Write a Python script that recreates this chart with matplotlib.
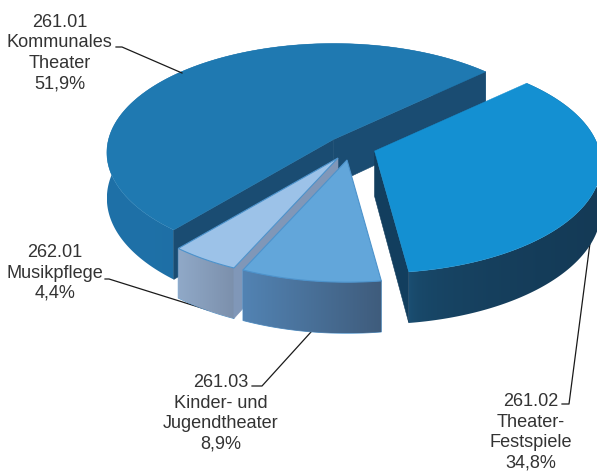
import numpy as np
import matplotlib
matplotlib.use('Agg')
import matplotlib.pyplot as plt
from matplotlib.colors import to_rgb
from matplotlib.patches import Polygon

plt.rcParams['font.family'] = ['Liberation Sans', 'DejaVu Sans']

# data, in clockwise order starting from the 261.02 slice
codes = ['261.02', '261.03', '262.01', '261.01']
names = ['Theater-\nFestspiele', 'Kinder- und\nJugendtheater', 'Musikpflege', 'Kommunales\nTheater']
shares = [34.8, 8.9, 4.4, 51.9]
share_labels = ['34,8%', '8,9%', '4,4%', '51,9%']

# layout of the fake 3d pie
start_angle = 43.0
rx, ry, persp = 225.0, 107.5, 0.12
depth = 45.0
tips = [(374.5, 151), (347, 160), (338, 158), (333.5, 139.5)]
draw_order = [3, 0, 2, 1]
# which radial faces can be seen: 0 is the clockwise start, -1 the end
faces = [[-1], [], [0], [0, -1]]

top_colors = ['#1490d2', '#62a6da', '#9cc2e8', '#1f79b1']
wall_colors = ['#123e5e', '#3f6c9a', '#8097b8', '#1a4c72']
side_left = ['#1c5378', '#5283b3', '#90a9c8', '#1f71a8']
side_right = ['#143a56', '#3f5c7c', '#7c90ac', '#1b6aa0']
side_gamma = [0.3, 1, 1, 1]
edge_colors = [None, '#4d93cc', '#4d93cc', None]

label_pos = [(531, 432.5), (221, 413.5), (55, 273), (59.5, 53)]
leaders = [[(562, 404), (569, 404), (590, 243)],
           [(252, 386), (262, 386), (311, 332)],
           [(105, 279), (109, 279), (208, 310)],
           [(116, 47), (122, 47), (182, 73)]]


def project(t, tip):
    # t in degrees on the disc, returns top rim and bottom rim points
    t = np.radians(t)
    w = 1 + persp*np.sin(t)
    x = tip[0] + rx*np.cos(t)/w
    y = tip[1] - ry*np.sin(t)/w
    return x, y, y + depth/w


def draw_slice(ax, i, t1, t2):
    tip = tips[i]
    z = 2 + draw_order.index(i)*3
    t = np.linspace(t1, t2, 240)
    x, y, yb = project(t, tip)

    # outer wall, gradient image clipped to the wall shape
    wall = np.r_[np.c_[x, y], np.c_[x, yb][::-1]]
    poly = Polygon(wall, fc='none', ec=edge_colors[i] or 'none', lw=0.6, zorder=z)
    ax.add_patch(poly)
    f = np.linspace(0, 1, 256)[None, :, None]**side_gamma[i]
    rgb = np.array(to_rgb(side_left[i]))[None, None, :]*(1-f) + np.array(to_rgb(side_right[i]))[None, None, :]*f
    im = ax.imshow(rgb, extent=(x.min(), x.max(), yb.max(), y.min()), aspect='auto', zorder=z,
                   interpolation='bilinear')
    im.set_clip_path(poly)

    # radial faces
    for k in faces[i]:
        ax.add_patch(Polygon([tip, (x[k], y[k]), (x[k], yb[k]), (tip[0], tip[1]+depth)],
                             fc=wall_colors[i], ec=wall_colors[i], lw=0.4, zorder=z+1))

    px = np.r_[tip[0], x]
    py = np.r_[tip[1], y]
    ec = edge_colors[i] or top_colors[i]
    ax.fill(px, py, fc=top_colors[i], ec=ec, lw=0.8 if edge_colors[i] else 0.3, zorder=z+2)


fig = plt.figure(figsize=(5.97, 4.73), dpi=100)
ax = fig.add_axes([0, 0, 1, 1])
ax.axis('off')

sweeps = np.array(shares)/sum(shares)*360
t_end = start_angle - np.cumsum(sweeps)
t_start = np.r_[start_angle, t_end[:-1]]

for i in draw_order:
    draw_slice(ax, i, t_start[i], t_end[i])

for i in range(len(codes)):
    xs, ys = zip(*leaders[i])
    ax.plot(xs, ys, color='#1a1a1a', lw=0.9, zorder=1 if i in (0, 1, 2) else 20)
    ax.text(label_pos[i][0], label_pos[i][1], codes[i]+'\n'+names[i]+'\n'+share_labels[i],
            ha='center', va='center', fontsize=13.1, color='#333333', linespacing=1.26, zorder=30)

ax.set_xlim(0, 597)
ax.set_ylim(473, 0)
fig.savefig('out.png', dpi=100)
